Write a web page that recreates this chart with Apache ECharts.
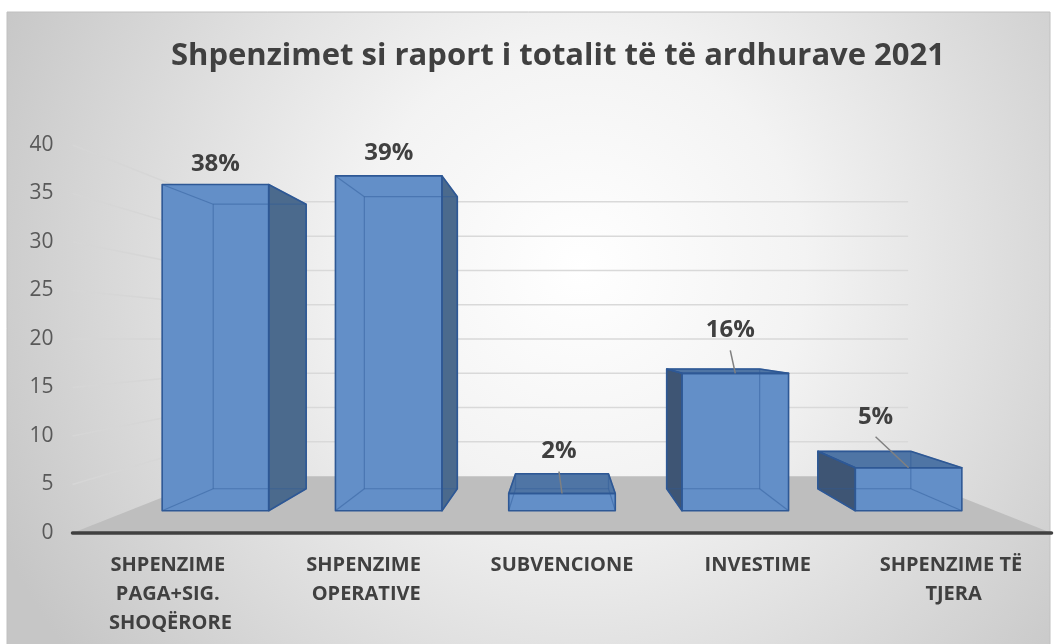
<!DOCTYPE html>
<html>
<head>
<meta charset="utf-8">
<script src="https://cdn.jsdelivr.net/npm/echarts@6/dist/echarts.min.js"></script>
<style>
html, body { margin: 0; padding: 0; background: #fff; }
#main { width: 1054px; height: 644px; }
</style>
</head>
<body>
<div id="main"></div>
<script>
// te dhenat
var titleText = 'Shpenzimet si raport i totalit të të ardhurave 2021';
var categories = ['SHPENZIME PAGA+SIG. SHOQËRORE', 'SHPENZIME OPERATIVE', 'SUBVENCIONE', 'INVESTIME', 'SHPENZIME TË TJERA'];
var shares = [38, 39, 2, 16, 5];
var yTicks = [0, 5, 10, 15, 20, 25, 30, 35, 40];

// pamja 3D (perspektive e thjeshte)
var EYE = 20;              // lartesia e horizontit ne njesi te boshtit
var S_FRONT = 0.885;       // faqja e para e shtyllave
var S_BACK = 0.772;        // faqja e pasme e shtyllave
var S_WALL = 0.707;        // muri i pasem
var BAR_RATIO = 0.615;
// zhvendosja e etiketave (Excel i kishte levizur me dore)
var labelNudge = [[0, -20], [0, -23], [-3, -42], [-5, -43], [-33, -51]];

var FRONT = '#638fc8', SIDE_R = '#4b6a8d', SIDE_L = '#3e5574', TOP = '#4f75a5', EDGE = '#2e5895';

var myChart = echarts.init(document.getElementById('main'));

function renderRoom(params, api) {
    var cs = params.coordSys;
    var vx = cs.x + cs.width / 2, vy = api.coord([0, EYE])[1];
    function P(x, y, s) { return [vx + (x - vx) * s, vy + (y - vy) * s]; }
    var xl = cs.x, xr = cs.x + cs.width, y0 = api.coord([0, 0])[1];
    var children = [{
        type: 'polygon',
        shape: { points: [[xl, y0], [xr, y0], P(xr, y0, S_WALL), P(xl, y0, S_WALL)] },
        style: { fill: '#bebebe' }
    }];
    yTicks.forEach(function (t) {
        if (t === 0) return;
        var yf = api.coord([0, t])[1];
        var c = P(xl, yf, S_WALL), d = P(xr, yf, S_WALL);
        children.push({ type: 'line', shape: { x1: xl, y1: yf, x2: c[0], y2: c[1] },
            style: { stroke: '#d6d6d6', lineWidth: 1.5 } });
        children.push({ type: 'line', shape: { x1: c[0], y1: c[1], x2: d[0], y2: d[1] },
            style: { stroke: '#d9d9d9', lineWidth: 1.5 } });
    });
    return { type: 'group', children: children, silent: true };
}

function renderBar(params, api) {
    var cs = params.coordSys;
    var vx = cs.x + cs.width / 2, vy = api.coord([0, EYE])[1];
    function P(x, y, s) { return [vx + (x - vx) * s, vy + (y - vy) * s]; }
    var i = api.value(0), v = api.value(1);
    var b = api.coord([i, 0]), t = api.coord([i, v]);
    var hw = api.size([1, 0])[0] * BAR_RATIO / 2;
    var xl = b[0] - hw, xr = b[0] + hw;
    var f = [P(xl, t[1], S_FRONT), P(xr, t[1], S_FRONT), P(xr, b[1], S_FRONT), P(xl, b[1], S_FRONT)];
    var k = [P(xl, t[1], S_BACK), P(xr, t[1], S_BACK), P(xr, b[1], S_BACK), P(xl, b[1], S_BACK)];

    var faces = [];
    if (b[0] < vx - 1) faces.push([[f[1], k[1], k[2], f[2]], SIDE_R]);
    else if (b[0] > vx + 1) faces.push([[f[0], k[0], k[3], f[3]], SIDE_L]);
    if (t[1] > vy) faces.push([[f[0], f[1], k[1], k[0]], TOP]);
    faces.push([f, FRONT]);

    var children = [];
    faces.forEach(function (fc) {
        children.push({ type: 'polygon', shape: { points: fc[0] }, style: { fill: fc[1] } });
    });
    // brinjet e fshehura, te dukshme permes faqes
    [[k[0], k[1]], [k[1], k[2]], [k[2], k[3]], [k[3], k[0]],
     [f[0], k[0]], [f[1], k[1]], [f[2], k[2]], [f[3], k[3]]].forEach(function (s) {
        children.push({ type: 'line', shape: { x1: s[0][0], y1: s[0][1], x2: s[1][0], y2: s[1][1] },
            style: { stroke: 'rgba(45,88,150,0.45)', lineWidth: 1.2 } });
    });
    faces.forEach(function (fc) {
        children.push({ type: 'polygon', shape: { points: fc[0] },
            style: { fill: 'none', stroke: EDGE, lineWidth: 1.6, lineJoin: 'round' } });
    });

    // etiketa
    var tx = (f[0][0] + f[1][0]) / 2, ty = f[0][1];
    var n = labelNudge[params.dataIndex];
    var lx = tx + n[0], ly = ty + n[1];
    if (Math.abs(n[1]) > 30) {
        children.push({ type: 'line', shape: { x1: lx, y1: ly + 20, x2: tx, y2: ty },
            style: { stroke: '#808080', lineWidth: 1.5 } });
    }
    children.push({ type: 'text', x: lx, y: ly, z2: 10,
        style: { text: v + '%', font: 'bold 24px "Open Sans"', fill: '#404040', align: 'center', verticalAlign: 'middle' } });
    return { type: 'group', children: children };
}

option = {
    backgroundColor: '#fff',
    animation: false,
    graphic: [{
        type: 'rect', z: -10, silent: true,
        shape: { x: 7, y: 12, width: 1043, height: 640 },
        style: {
            fill: new echarts.graphic.RadialGradient(0.55, 0.4, 1.0, [
                { offset: 0, color: '#ffffff' },
                { offset: 0.35, color: '#f3f3f3' },
                { offset: 1, color: '#c6c6c6' }
            ]),
            stroke: '#c0c0c0', lineWidth: 1
        }
    }],
    title: {
        text: titleText,
        left: 553, top: 36,
        textAlign: 'center',
        textStyle: { fontFamily: 'Open Sans', fontWeight: 'bold', fontSize: 31, color: '#404040' }
    },
    grid: { left: 72.5, right: 2.5, top: 145, bottom: 111 },
    xAxis: {
        type: 'category',
        data: categories,
        z: 5,
        axisLine: { show: true, lineStyle: { color: '#404040', width: 3.5 } },
        axisTick: { show: false },
        axisLabel: {
            interval: 0,
            margin: 18,
            color: '#404040',
            fontFamily: 'Open Sans',
            fontWeight: 'bold',
            fontSize: 20,
            lineHeight: 29,
            width: 175,
            overflow: 'break'
        },
        splitLine: { show: false }
    },
    yAxis: {
        type: 'value',
        min: 0, max: 40, interval: 5,
        axisLine: { show: false },
        axisTick: { show: false },
        splitLine: { show: false },
        axisLabel: { color: '#595959', fontFamily: 'Open Sans', fontSize: 21, margin: 19 }
    },
    series: [{
        type: 'custom',
        z: 1,
        silent: true,
        renderItem: renderRoom,
        data: [[0, 0]]
    }, {
        type: 'custom',
        z: 2,
        renderItem: renderBar,
        data: shares.map(function (s, i) { return [i, s]; })
    }]
};

myChart.setOption(option);
</script>
</body>
</html>
